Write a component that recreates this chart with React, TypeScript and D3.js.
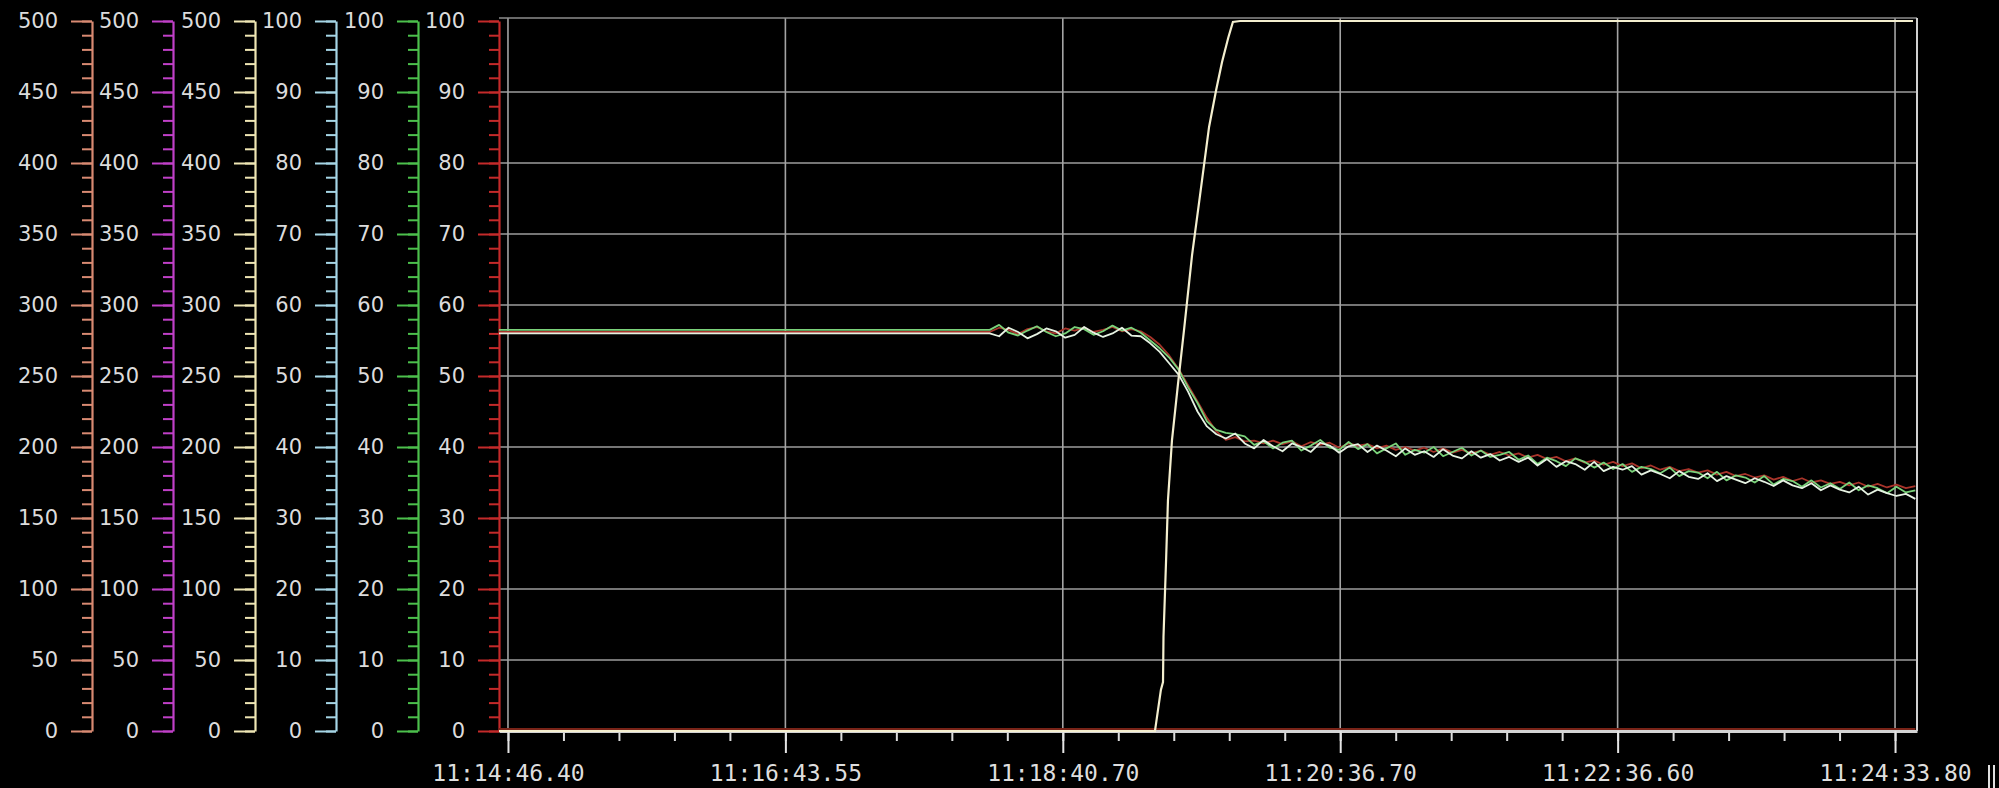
import React, { useEffect, useRef } from 'react';
import * as d3 from 'd3';

// left scales (max value, colour)
const axisMax = [500, 500, 500, 100, 100, 100];
const axisColors = ['#d98a72', '#c040c8', '#efe6b4', '#a6d6e6', '#4cc04c', '#c42a2a'];

// x labels at each major division, seconds per division
const timeLabels = ['11:14:46.40', '11:16:43.55', '11:18:40.70', '11:20:36.70', '11:22:36.60', '11:24:33.80'];
const majorStep = 117.48;

// cream trace (0-500 scale)
const creamTime = [-3.8, 274.0, 276.5, 277.4, 277.6, 278.7, 279.5, 281.2, 283.7, 286.3, 289.7, 293.1, 296.9, 299.9, 302.4, 305.0, 307.0, 310.0, 595.0];
const creamValue = [0, 0, 28.9, 34.5, 66.2, 120.4, 162.7, 204.9, 243.7, 282.4, 335.2, 377.5, 425.4, 451.4, 471.1, 488.0, 499.3, 500, 500];

// noisy traces (0-100 scale), flat before noiseStart, then one sample every noiseStep s
const noiseStart = 204;
const noiseStep = 4;
const greenFlat = 56.5;
const whiteFlat = 56.0;
const redFlat = 56.2;

const greenValues = [
  56.5, 57.2, 56.1, 55.7, 56.4, 57.0, 56.2, 55.6, 56.0, 56.9, 56.6, 55.8, 56.3, 57.1, 56.4, 56.8,
  56.1, 55.0, 53.9, 52.6, 50.9, 48.4, 46.2, 43.6, 42.4,
  42.0, 41.8, 41.5, 40.3, 40.8,
  39.8, 40.6, 40.9, 39.5, 40.2, 41.0, 39.9, 39.6, 40.7, 39.7,
  40.4, 39.1, 39.8, 40.5, 38.9, 39.6, 39.2, 40.0, 38.7, 39.3, 39.9, 38.8, 39.5, 38.6, 38.9,
  39.3, 38.2, 38.8, 37.6, 38.5, 38.0, 37.3, 38.4, 37.9, 37.1, 37.8, 36.9,
  37.6, 36.5, 37.2, 36.9, 36.3, 37.1, 35.9, 36.6, 36.4, 35.6, 36.5, 35.3, 36.0,
  35.7, 35.0, 35.9, 34.7, 35.5, 35.2, 34.4, 35.3, 34.3, 34.9,
  34.1, 35.0, 33.9, 34.6, 34.2, 33.5, 34.4, 33.6, 33.9,
];

const whiteValues = [
  56.0, 55.6, 56.8, 56.2, 55.3, 55.9, 56.7, 56.3, 55.4, 55.8, 56.9, 56.1, 55.5, 56.0, 56.8, 55.7,
  55.6, 54.6, 53.4, 51.8, 50.2, 47.8, 45.0, 42.9, 41.8,
  41.2, 41.9, 40.5, 39.8, 41.0,
  40.1, 39.4, 40.5, 40.0, 39.3, 40.6, 40.2, 39.2, 40.1, 40.4,
  39.3, 40.2, 39.5, 38.7, 39.8, 38.9, 39.4, 38.6, 39.7, 38.8, 38.4, 39.4, 38.5, 39.0, 38.1,
  38.6, 37.9, 38.5, 37.4, 38.3, 37.2, 38.0, 37.6, 36.8, 37.9, 36.6, 37.2,
  36.8, 37.3, 36.1, 36.7, 36.2, 35.6, 36.6, 35.8, 35.5, 36.3, 35.2, 35.9, 35.4,
  34.9, 35.6, 35.1, 34.5, 35.3, 34.6, 34.2, 34.9, 33.9, 34.6,
  34.0, 33.6, 34.4, 33.3, 34.0, 33.5, 33.1, 33.4, 32.7,
];

const redValues = [
  56.2, 56.8, 56.5, 55.9, 56.6, 56.9, 56.3, 56.0, 56.7, 56.4, 56.8, 56.2, 56.5, 56.9, 56.3, 56.6,
  56.3, 55.5, 54.4, 52.9, 51.0, 48.7, 46.4, 44.1, 42.2,
  41.0, 41.4, 40.8, 40.9, 40.5,
  40.9, 40.4, 40.8, 40.1, 40.7, 40.3, 40.6, 39.9, 40.5, 40.2,
  40.4, 39.8, 40.2, 39.6, 40.0, 39.5, 39.9, 39.3, 39.8, 39.2, 39.6, 39.1, 39.5, 38.9, 39.3,
  38.8, 39.1, 38.5, 38.9, 38.3, 38.6, 38.0, 38.4, 37.8, 38.1, 37.5, 37.9,
  37.3, 37.7, 37.0, 37.4, 36.8, 37.2, 36.6, 36.9, 36.4, 36.7, 36.1, 36.5, 35.9,
  36.2, 35.7, 36.0, 35.4, 35.8, 35.2, 35.6, 35.0, 35.3, 34.8,
  35.1, 34.6, 35.0, 34.4, 34.8, 34.3, 34.7, 34.2, 34.5,
];

export default function App() {
  const ref = useRef<SVGSVGElement>(null);

  useEffect(() => {
    const width = 1999;
    const height = 788;
    const top = 21;
    const bottom = 731;
    const frameTop = 18;
    const left = 499;
    const right = 1917;
    const axisX = [92, 173, 255, 336, 418, 499];

    const svg = d3.select(ref.current);
    svg.selectAll('*').remove();
    svg.attr('width', width).attr('height', height);
    svg.append('rect').attr('width', width).attr('height', height).attr('fill', '#000');

    const x = d3.scaleLinear([-3.8, 596.7], [left, right]);
    const yScales = axisMax.map((m) => d3.scaleLinear([0, m], [bottom, top]));
    const y100 = yScales[5];

    // grid
    const grid = svg.append('g');
    grid
      .selectAll('line.h')
      .data(d3.range(10, 100, 10))
      .join('line')
      .attr('x1', left)
      .attr('x2', right)
      .attr('y1', (d) => y100(d))
      .attr('y2', (d) => y100(d))
      .attr('stroke', '#9c9c9c')
      .attr('stroke-width', 1.6);
    const majors = timeLabels.map((_, i) => i * majorStep);
    grid
      .selectAll('line.v')
      .data(majors)
      .join('line')
      .attr('x1', (d) => x(d))
      .attr('x2', (d) => x(d))
      .attr('y1', frameTop)
      .attr('y2', bottom)
      .attr('stroke', '#a4a4a4')
      .attr('stroke-width', 1.6);
    grid.append('line').attr('x1', left).attr('x2', right).attr('y1', frameTop).attr('y2', frameTop)
      .attr('stroke', '#8c8c8c').attr('stroke-width', 1.6);
    grid.append('line').attr('x1', right).attr('x2', right).attr('y1', frameTop).attr('y2', bottom)
      .attr('stroke', '#d0d0d0').attr('stroke-width', 2);

    // y axes
    axisMax.forEach((m, k) => {
      const g = svg.append('g').attr('transform', `translate(${axisX[k]},0)`);
      g.call(
        d3.axisLeft(yScales[k]).tickValues(d3.range(0, m + 1, m / 50)).tickSize(10).tickSizeOuter(0).tickFormat(() => '')
      );
      g.select('.domain').remove();
      g.selectAll('.tick line').attr('stroke', axisColors[k]).attr('stroke-width', 2);
      const g2 = svg.append('g').attr('transform', `translate(${axisX[k]},0)`);
      g2.call(
        d3.axisLeft(yScales[k]).tickValues(d3.range(0, m + 1, m / 10)).tickSize(21).tickSizeOuter(0).tickPadding(13)
      );
      g2.select('.domain').attr('stroke', axisColors[k]).attr('stroke-width', 2.2);
      g2.selectAll('.tick line').attr('stroke', axisColors[k]).attr('stroke-width', 2);
      g2.selectAll('.tick text')
        .attr('fill', '#dcdcdc')
        .style('font-family', '"DejaVu Sans", Verdana, sans-serif')
        .style('font-size', '21px');
    });

    // x axis
    const minors = d3.range(0, 596.7, majorStep / 5);
    const gx1 = svg.append('g').attr('transform', `translate(0,${bottom})`);
    gx1.call(d3.axisBottom(x).tickValues(minors).tickSize(10).tickSizeOuter(0).tickFormat(() => ''));
    gx1.select('.domain').remove();
    gx1.selectAll('.tick line').attr('stroke', '#dcdcdc').attr('stroke-width', 2);
    const gx = svg.append('g').attr('transform', `translate(0,${bottom})`);
    gx.call(
      d3.axisBottom(x).tickValues(majors).tickSize(22).tickSizeOuter(0).tickPadding(12)
        .tickFormat((_, i) => timeLabels[i])
    );
    gx.select('.domain').attr('stroke', '#d4d4d4').attr('stroke-width', 3);
    gx.selectAll('.tick line').attr('stroke', '#e4e4e4').attr('stroke-width', 2);
    gx.selectAll('.tick text')
      .attr('fill', '#dedede')
      .style('font-family', '"DejaVu Sans Mono", "Liberation Mono", monospace')
      .style('font-size', '23px');

    // cursor marks after last label
    svg.append('line').attr('x1', 1989).attr('x2', 1989).attr('y1', 765).attr('y2', 788).attr('stroke', '#e0e0e0').attr('stroke-width', 2);
    svg.append('line').attr('x1', 1994).attr('x2', 1994).attr('y1', 765).attr('y2', 788).attr('stroke', '#e0e0e0').attr('stroke-width', 2);

    // traces
    const plot = svg.append('g');
    const noisy = (flat: number, vals: number[]) => [
      { t: -3.8, v: flat },
      ...vals.map((v, i) => ({ t: noiseStart + i * noiseStep, v })),
    ];
    const line100 = d3.line<{ t: number; v: number }>().x((d) => x(d.t)).y((d) => y100(d.v));

    // zero traces of the 0-500 scales
    plot.append('path')
      .attr('d', d3.line<number>().x((d) => x(d)).y(() => yScales[0](0) - 2)([-3.8, 596]))
      .attr('fill', 'none').attr('stroke', '#7a2418').attr('stroke-width', 2);

    const traces: [number[], number, string][] = [
      [redValues, redFlat, '#a8342a'],
      [greenValues, greenFlat, '#7ad27a'],
      [whiteValues, whiteFlat, '#e6f2e2'],
    ];
    traces.forEach(([vals, flat, c]) => {
      plot.append('path')
        .attr('d', line100(noisy(flat, vals)))
        .attr('fill', 'none')
        .attr('stroke', c)
        .attr('stroke-width', 1.8)
        .attr('stroke-linejoin', 'round');
    });

    const yCream = yScales[2];
    plot.append('path')
      .attr('d', d3.line<number>().x((d) => x(d)).y((_, i) => yCream(creamValue[i]))(creamTime))
      .attr('fill', 'none')
      .attr('stroke', '#f4efcf')
      .attr('stroke-width', 2.2);
  }, []);

  return (
    <svg
      ref={ref}
      style={{ position: 'absolute', left: 0, top: 0, display: 'block', background: '#000' }}
    />
  );
}
